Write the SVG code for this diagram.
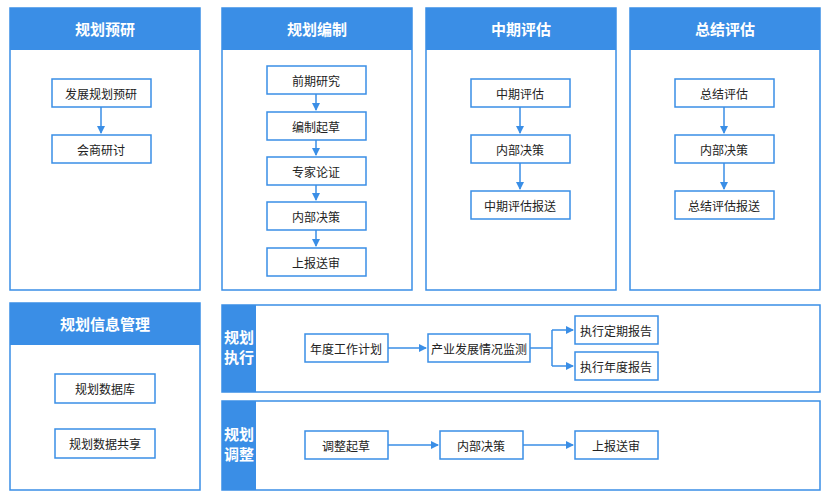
<svg xmlns="http://www.w3.org/2000/svg" width="831" height="500" viewBox="0 0 831 500">
<style>
.p{fill:#fff;stroke:#3a8ee6;stroke-width:1.5}
.h{fill:#3a8ee6}
.b{fill:#fff;stroke:#3a8ee6;stroke-width:1.5}
.ht{font-family:"Noto Sans CJK SC",sans-serif;font-size:15px;font-weight:bold;fill:#fff;text-anchor:middle}
.t{font-family:"Noto Sans CJK SC",sans-serif;font-size:12px;fill:#222;text-anchor:middle;dominant-baseline:central}
.c{stroke:#3a8ee6;stroke-width:1.5;fill:none}
</style>
<defs><marker id="a" markerWidth="8" markerHeight="8" refX="7" refY="4" orient="auto" markerUnits="userSpaceOnUse"><path d="M0,0L8,4L0,8z" fill="#3a8ee6"/></marker></defs>
<rect width="831" height="500" fill="#fff"/>
<g id="panels">
<rect class="p" x="10" y="8" width="190" height="282"/><rect class="h" x="10" y="8" width="190" height="42"/><text class="ht" x="105" y="35">规划预研</text>
<rect class="p" x="222" y="8" width="190" height="282"/><rect class="h" x="222" y="8" width="190" height="42"/><text class="ht" x="317" y="35">规划编制</text>
<rect class="p" x="426" y="8" width="190" height="282"/><rect class="h" x="426" y="8" width="190" height="42"/><text class="ht" x="521" y="35">中期评估</text>
<rect class="p" x="630" y="8" width="190" height="282"/><rect class="h" x="630" y="8" width="190" height="42"/><text class="ht" x="725" y="35">总结评估</text>
<rect class="p" x="10" y="303" width="190" height="187"/><rect class="h" x="10" y="303" width="190" height="42"/><text class="ht" x="105" y="330">规划信息管理</text>
<rect class="p" x="222" y="305" width="598" height="87"/><rect class="h" x="222" y="305" width="34" height="87"/><text class="ht" x="239" y="343">规划</text><text class="ht" x="239" y="363">执行</text>
<rect class="p" x="222" y="401" width="598" height="89"/><rect class="h" x="222" y="401" width="34" height="89"/><text class="ht" x="239" y="440">规划</text><text class="ht" x="239" y="460">调整</text>
</g>
<g id="connectors">
<path class="c" d="M101,107V133" marker-end="url(#a)"/>
<path class="c" d="M316,94V110" marker-end="url(#a)"/>
<path class="c" d="M316,140V155" marker-end="url(#a)"/>
<path class="c" d="M316,185V200" marker-end="url(#a)"/>
<path class="c" d="M316,230V246" marker-end="url(#a)"/>
<path class="c" d="M520,107V133" marker-end="url(#a)"/>
<path class="c" d="M520,163V189" marker-end="url(#a)"/>
<path class="c" d="M724,107V133" marker-end="url(#a)"/>
<path class="c" d="M724,163V189" marker-end="url(#a)"/>
<path class="c" d="M388,348H426" marker-end="url(#a)"/>
<path class="c" d="M530,348H552"/>
<path class="c" d="M552,330V366M552,330H573" marker-end="url(#a)"/>
<path class="c" d="M552,366H573" marker-end="url(#a)"/>
<path class="c" d="M388,445H438" marker-end="url(#a)"/>
<path class="c" d="M523,445H573" marker-end="url(#a)"/>
</g>
<g id="n1"><rect class="b" x="52" y="79" width="99" height="28"/><text class="t" x="101" y="93">发展规划预研</text></g>
<g id="n2"><rect class="b" x="52" y="135" width="99" height="28"/><text class="t" x="101" y="149">会商研讨</text></g>
<g id="n3"><rect class="b" x="267" y="66" width="99" height="28"/><text class="t" x="316" y="80">前期研究</text></g>
<g id="n4"><rect class="b" x="267" y="112" width="99" height="28"/><text class="t" x="316" y="126">编制起草</text></g>
<g id="n5"><rect class="b" x="267" y="157" width="99" height="28"/><text class="t" x="316" y="171">专家论证</text></g>
<g id="n6"><rect class="b" x="267" y="202" width="99" height="28"/><text class="t" x="316" y="216">内部决策</text></g>
<g id="n7"><rect class="b" x="267" y="248" width="99" height="28"/><text class="t" x="316" y="262">上报送审</text></g>
<g id="n8"><rect class="b" x="471" y="79" width="99" height="28"/><text class="t" x="520" y="93">中期评估</text></g>
<g id="n9"><rect class="b" x="471" y="135" width="99" height="28"/><text class="t" x="520" y="149">内部决策</text></g>
<g id="n10"><rect class="b" x="471" y="191" width="99" height="28"/><text class="t" x="520" y="205">中期评估报送</text></g>
<g id="n11"><rect class="b" x="675" y="79" width="99" height="28"/><text class="t" x="724" y="93">总结评估</text></g>
<g id="n12"><rect class="b" x="675" y="135" width="99" height="28"/><text class="t" x="724" y="149">内部决策</text></g>
<g id="n13"><rect class="b" x="675" y="191" width="99" height="28"/><text class="t" x="724" y="205">总结评估报送</text></g>
<g id="n14"><rect class="b" x="55" y="374" width="100" height="29"/><text class="t" x="105" y="388">规划数据库</text></g>
<g id="n15"><rect class="b" x="55" y="429" width="100" height="29"/><text class="t" x="105" y="443">规划数据共享</text></g>
<g id="n16"><rect class="b" x="305" y="334" width="83" height="28"/><text class="t" x="346" y="348">年度工作计划</text></g>
<g id="n17"><rect class="b" x="428" y="334" width="102" height="28"/><text class="t" x="479" y="348">产业发展情况监测</text></g>
<g id="n18"><rect class="b" x="575" y="316" width="83" height="28"/><text class="t" x="616" y="330">执行定期报告</text></g>
<g id="n19"><rect class="b" x="575" y="352" width="83" height="28"/><text class="t" x="616" y="366">执行年度报告</text></g>
<g id="n20"><rect class="b" x="305" y="431" width="83" height="28"/><text class="t" x="346" y="445">调整起草</text></g>
<g id="n21"><rect class="b" x="440" y="431" width="83" height="28"/><text class="t" x="481" y="445">内部决策</text></g>
<g id="n22"><rect class="b" x="575" y="431" width="83" height="28"/><text class="t" x="616" y="445">上报送审</text></g>
</svg>
